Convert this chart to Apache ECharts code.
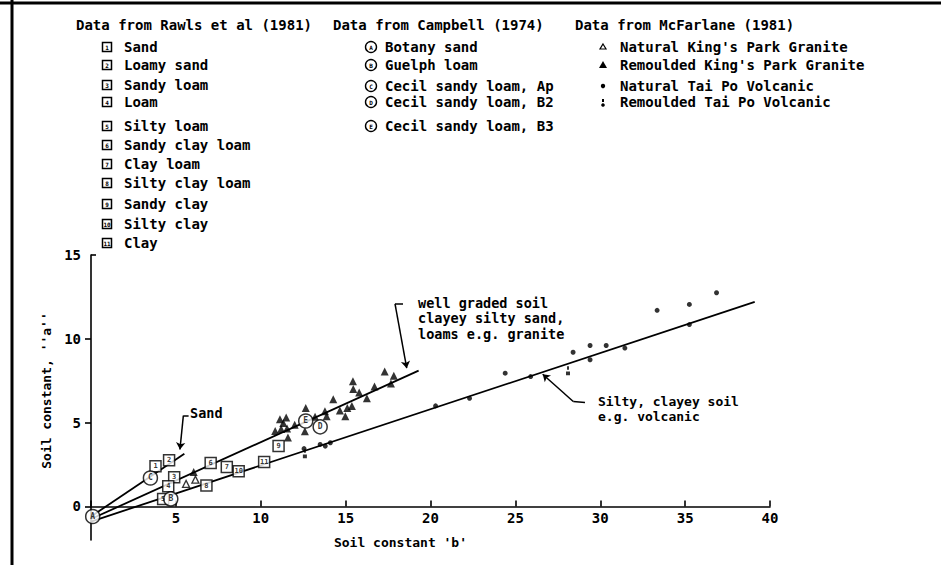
<!DOCTYPE html>
<html>
<head>
<meta charset="utf-8">
<script src="https://cdn.jsdelivr.net/npm/echarts@6/dist/echarts.min.js"></script>
<style>
html,body{margin:0;padding:0;background:#fff;}
#c{width:941px;height:565px;}
</style>
</head>
<body>
<div id="c"></div>
<script>
// ---------------- data ----------------
// Rawls et al (1981): numbered boxes
const rawlsNames = ['Sand','Loamy sand','Sandy loam','Loam','Silty loam','Sandy clay loam','Clay loam','Silty clay loam','Sandy clay','Silty clay','Clay'];
const rawlsNum   = ['1','2','3','4','5','6','7','8','9','10','11'];
const rawlsB     = [3.8, 4.6, 4.9, 4.55, 4.25, 7.05, 8.0, 6.8, 11.05, 8.7, 10.2];
const rawlsA     = [2.4, 2.75, 1.75, 1.2, 0.45, 2.6, 2.35, 1.25, 3.6, 2.1, 2.65];

// Campbell (1974): lettered circles
const campbellNames  = ['Botany sand','Guelph loam','Cecil sandy loam, Ap','Cecil sandy loam, B2','Cecil sandy loam, B3'];
const campbellLetter = ['A','B','C','D','E'];
const campbellB      = [0.1, 4.7, 3.5, 13.5, 12.65];
const campbellA      = [-0.6, 0.45, 1.7, 4.75, 5.1];

// McFarlane (1981)
const mcfNames = ["Natural King's Park Granite","Remoulded King's Park Granite","Natural Tai Po Volcanic","Remoulded Tai Po Volcanic"];
const naturalKPG = [[5.6,1.35],[6.15,1.6]];
const remouldedKPG = [
  [6.05,2.05],[10.85,4.5],[11.2,4.62],[11.55,4.65],[11.6,4.12],[11.13,5.2],[11.5,5.3],[11.33,4.98],
  [12.0,4.88],[12.6,4.48],[12.65,5.87],[13.2,5.35],[13.78,5.68],[13.88,5.38],[14.27,6.4],[14.66,5.72],
  [15.1,5.88],[15.37,6.0],[14.98,5.38],[15.43,7.47],[15.45,7.0],[15.8,6.8],[16.25,6.45],[16.7,7.15],
  [17.3,8.05],[17.84,7.8],[17.67,7.33]
];
const naturalTaiPo = [
  [12.55,3.45],[13.5,3.7],[13.8,3.6],[14.1,3.8],[20.3,6.0],[22.3,6.45],[24.4,7.95],[25.9,7.75],
  [28.4,9.2],[29.4,9.6],[29.4,8.75],[30.35,9.6],[31.45,9.45],[33.35,11.7],[35.25,12.05],[35.25,10.85],[36.85,12.75]
];
const remouldedTaiPo = [[12.6,3.15],[28.1,8.1]];

// Fitted lines (end points)
const sandFit   = [[0,-0.6],[5.5,3.15]];
const gradedFit = [[0,-0.75],[19.3,8.1]];
const siltyFit  = [[0,-0.9],[39.1,12.2]];

// Leader lines of the annotations (data coordinates)
const sandLeader   = [[5.75,5.42],[5.44,5.42],[5.24,3.4]];
const gradedLeader = [[18.38,12.08],[17.91,12.08],[18.6,8.25]];
const siltyLeader  = [[29.1,6.2],[28.41,6.26],[26.61,7.89]];

// Axis tick labels
const xTicks = [5,10,15,20,25,30,35,40];
const yTicks = [0,5,10,15];

// ---------------- chart ----------------
const FONT = '"DejaVu Sans Mono", monospace';
const Y_MIN = -2, Y_MAX = 15;
const GRID = {left:91, right:171, top:255, bottom:25};
const plotH = 565 - GRID.top - GRID.bottom;
// shift the bottom axis up so it runs along a = 0
const xAxisOffset = -plotH * (0 - Y_MIN) / (Y_MAX - Y_MIN);

const chart = echarts.init(document.getElementById('c'), null, {renderer:'svg'});

function leaderMarkLine(pts){
  const segs = [];
  for (let i=0;i<pts.length-1;i++){
    const last = (i===pts.length-2);
    segs.push([
      {coord:pts[i], symbol:'none'},
      {coord:pts[i+1], symbol: last ? 'arrow' : 'none', symbolSize: last ? 7 : 0}
    ]);
  }
  return segs;
}

const graphic = [];
// frame
graphic.push({type:'line', shape:{x1:0,y1:3,x2:941,y2:3}, style:{stroke:'#000', lineWidth:3}});
graphic.push({type:'line', shape:{x1:12,y1:0,x2:12,y2:565}, style:{stroke:'#000', lineWidth:3}});

const txt = (x,y,s,size,lh)=>({type:'text', x:x, y:y, style:{text:s, fill:'#000', font:'bold '+(size||14)+'px '+FONT, lineHeight: lh||undefined, textVerticalAlign:'top', verticalAlign:'top', textAlign:'left', align:'left'}});
const legTxt = (x,y,s)=>({type:'text', x:x, y:y, style:{text:s, fill:'#000', font:'bold 14px '+FONT, textVerticalAlign:'middle', verticalAlign:'middle', textAlign:'left', align:'left'}});

// legend column 1: Rawls
graphic.push(legTxt(76,25,'Data from Rawls et al (1981)'));
const rawlsY = [47,65,85,102,126,145,164,183,204,224,243];
rawlsNames.forEach((n,i)=>{
  graphic.push({type:'rect', shape:{x:102.5,y:rawlsY[i]-4.5,width:9,height:9}, style:{fill:'#fff', stroke:'#000', lineWidth:1.5}});
  graphic.push({type:'text', x:107, y:rawlsY[i], style:{text:rawlsNum[i], fill:'#000', font:'bold 6px '+FONT, textAlign:'center', align:'center', textVerticalAlign:'middle', verticalAlign:'middle'}});
  graphic.push(legTxt(124,rawlsY[i],n));
});
// legend column 2: Campbell
graphic.push(legTxt(333,25,'Data from Campbell (1974)'));
const campY = [47,65,86,102,126];
campbellNames.forEach((n,i)=>{
  graphic.push({type:'circle', shape:{cx:371,cy:campY[i],r:5.5}, style:{fill:'#fff', stroke:'#000', lineWidth:1.4}});
  graphic.push({type:'text', x:371, y:campY[i], style:{text:campbellLetter[i], fill:'#000', font:'bold 6px '+FONT, textAlign:'center', align:'center', textVerticalAlign:'middle', verticalAlign:'middle'}});
  graphic.push(legTxt(385,campY[i],n));
});
// legend column 3: McFarlane
graphic.push(legTxt(575,25,'Data from McFarlane (1981)'));
const mcfY = [47,65,86,102];
graphic.push({type:'polygon', shape:{points:[[603,44],[606,49],[600,49]]}, style:{fill:'#fff', stroke:'#000', lineWidth:1.2}});
graphic.push({type:'polygon', shape:{points:[[603,61],[607,68],[599,68]]}, style:{fill:'#000'}});
graphic.push({type:'circle', shape:{cx:603,cy:86,r:2.2}, style:{fill:'#000'}});
graphic.push({type:'rect', shape:{x:602,y:99,width:2,height:3}, style:{fill:'#000'}});
graphic.push({type:'circle', shape:{cx:603,cy:105,r:1.8}, style:{fill:'#000'}});
mcfNames.forEach((n,i)=>graphic.push(legTxt(620,mcfY[i],n)));

// annotations (multi-line texts)
graphic.push(txt(190,406,'Sand',13.5));
graphic.push(txt(418,295,'well graded soil\nclayey silty sand,\nloams e.g. granite',13.5,15.5));
graphic.push(txt(598,394,'Silty, clayey soil\ne.g. volcanic',13,15));

const lineSeries = (name, d)=>({
  name, type:'line', data:d, showSymbol:false, symbol:'none', silent:true, z:2,
  lineStyle:{color:'#000', width:1.8}
});

const option = {
  animation:false,
  backgroundColor:'#fff',
  textStyle:{fontFamily:FONT},
  grid:{left:GRID.left, right:GRID.right, top:GRID.top, bottom:GRID.bottom, containLabel:false, outerBoundsMode:'none'},
  xAxis:{
    type:'value', min:0, max:40, interval:5, position:'bottom', offset:xAxisOffset,
    axisLine:{onZero:false, lineStyle:{color:'#000', width:1.6}},
    axisTick:{inside:true, length:6, lineStyle:{color:'#000', width:1.6}},
    axisLabel:{color:'#000', fontSize:14, fontWeight:'bold', fontFamily:FONT, margin:5,
      formatter:v=> (xTicks.indexOf(v)>=0 ? String(v) : '')},
    splitLine:{show:false},
    name:"Soil constant 'b'", nameLocation:'middle', nameGap:30,
    nameTextStyle:{color:'#000', fontSize:13, fontWeight:'bold', fontFamily:FONT, padding:[0,60,0,0]}
  },
  yAxis:[{
    type:'value', min:Y_MIN, max:Y_MAX,
    axisLine:{onZero:false, lineStyle:{color:'#000', width:1.6}},
    axisTick:{show:true, inside:false, length:6, customValues:[0,5,10], lineStyle:{color:'#000', width:1.6}},
    axisLabel:{color:'#000', fontSize:14, fontWeight:'bold', fontFamily:FONT, margin:10, customValues:yTicks},
    splitLine:{show:false},
    name:"Soil constant, ''a''", nameLocation:'middle', nameGap:34, nameRotate:90,
    nameTextStyle:{color:'#000', fontSize:13, fontWeight:'bold', fontFamily:FONT, padding:[0,0,0,14]}
  },{
    type:'value', min:Y_MIN, max:Y_MAX, position:'left',
    axisLine:{show:false, onZero:false},
    axisTick:{show:true, inside:true, length:5, customValues:[15], lineStyle:{color:'#000', width:1.6}},
    axisLabel:{show:false},
    splitLine:{show:false}
  }],
  graphic: graphic,
  series:[
    lineSeries('sandFit', sandFit),
    lineSeries('gradedFit', gradedFit),
    lineSeries('siltyFit', siltyFit),
    {
      name:'leaders', type:'line', data:[], silent:true,
      markLine:{silent:true, animation:false, label:{show:false},
        lineStyle:{color:'#000', width:1.5, type:'solid'},
        emphasis:{disabled:true},
        data:[].concat(leaderMarkLine(sandLeader), leaderMarkLine(gradedLeader), leaderMarkLine(siltyLeader))}
    },
    {
      name:mcfNames[0], type:'scatter', data:naturalKPG, symbol:'triangle', symbolSize:7, z:4, silent:true,
      itemStyle:{color:'#fff', borderColor:'#000', borderWidth:1.3}
    },
    {
      name:mcfNames[1], type:'scatter', data:remouldedKPG, symbol:'triangle', symbolSize:8, z:4, silent:true,
      itemStyle:{color:'#000'}
    },
    {
      name:mcfNames[2], type:'scatter', data:naturalTaiPo, symbol:'circle', symbolSize:5, z:4, silent:true,
      itemStyle:{color:'#000'}
    },
    {
      name:mcfNames[3], type:'scatter', data:remouldedTaiPo, symbol:'path://M4,0h2v4h-2z M3,6h4v4h-4z', symbolSize:[4,9], z:4, silent:true,
      itemStyle:{color:'#000'}
    },
    {
      name:'Rawls', type:'scatter', symbol:'rect', symbolSize:11, z:5, silent:true,
      data: rawlsB.map((b,i)=>[b, rawlsA[i], rawlsNum[i]]),
      itemStyle:{color:'#fff', borderColor:'#000', borderWidth:1.5},
      label:{show:true, position:'inside', formatter:p=>p.value[2], color:'#000', fontSize:7, fontWeight:'bold', fontFamily:FONT}
    },
    {
      name:'Campbell', type:'scatter', symbol:'circle', symbolSize:14, z:5, silent:true,
      data: campbellB.map((b,i)=>[b, campbellA[i], campbellLetter[i]]),
      itemStyle:{color:'#fff', borderColor:'#000', borderWidth:1.5},
      label:{show:true, position:'inside', formatter:p=>p.value[2], color:'#000', fontSize:8, fontWeight:'bold', fontFamily:FONT}
    }
  ]
};
chart.setOption(option);
</script>
</body>
</html>
